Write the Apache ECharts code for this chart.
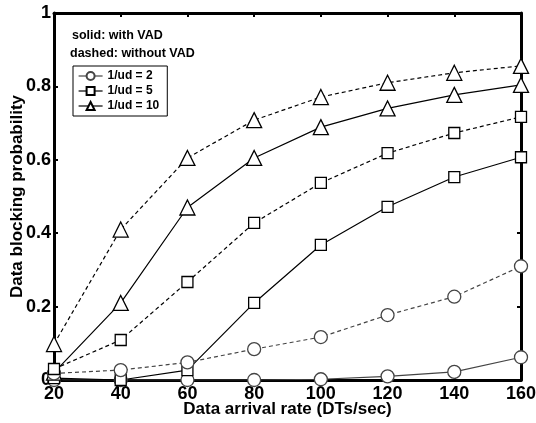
<!DOCTYPE html>
<html>
<head>
<meta charset="utf-8">
<script src="https://cdn.jsdelivr.net/npm/echarts@6/dist/echarts.min.js"></script>
<style>
  html, body { margin: 0; padding: 0; background: #fff; }
  #chart { width: 536px; height: 423px; }
</style>
</head>
<body>
<div id="chart"></div>
<script>
// arrival rates (DTs/sec)
const rates = [20, 40, 60, 80, 100, 120, 140, 160];
const yTicks = [0, 0.2, 0.4, 0.6, 0.8, 1];

// with VAD (solid)
const ud2With  = [0.0, 0.0, 0.0, 0.0, 0.002, 0.01, 0.022, 0.062];
const ud5With  = [0.005, 0.0, 0.027, 0.21, 0.368, 0.472, 0.553, 0.607];
const ud10With = [0.02, 0.21, 0.47, 0.605, 0.689, 0.74, 0.777, 0.804];
// without VAD (dashed)
const ud2Without  = [0.018, 0.027, 0.048, 0.084, 0.117, 0.177, 0.227, 0.31];
const ud5Without  = [0.03, 0.109, 0.267, 0.428, 0.537, 0.618, 0.673, 0.717];
const ud10Without = [0.098, 0.41, 0.605, 0.708, 0.771, 0.81, 0.837, 0.856];

const pairs = arr => rates.map((x, i) => [x, arr[i]]);

function line(name, data, symbol, size, dashed, color) {
  return {
    name: name,
    type: 'line',
    data: pairs(data),
    symbol: symbol,
    symbolSize: size,
    showSymbol: true,
    lineStyle: { color: color, width: 1.2, type: dashed ? [4, 3] : 'solid' },
    itemStyle: { color: '#fff', borderColor: color, borderWidth: 1.3 },
    emphasis: { disabled: true },
    animation: false
  };
}

const chart = echarts.init(document.getElementById('chart'));
const labelFont = { fontFamily: 'Liberation Sans, Arial, sans-serif', fontWeight: 'bold' };
const frame = { onZero: false, lineStyle: { color: '#000', width: 3 } };
const ticks = { show: true, inside: true, length: 4, lineStyle: { color: '#000', width: 2 } };

chart.setOption({
  backgroundColor: '#fff',
  grid: { left: 54, right: 15, top: 13, bottom: 43, outerBoundsMode: 'none' },
  xAxis: [{
    type: 'value', min: 20, max: 160, interval: 20,
    name: 'Data arrival rate (DTs/sec)', nameLocation: 'middle', nameGap: 21,
    nameMoveOverlap: false,
    nameTextStyle: Object.assign({ fontSize: 17, color: '#000' }, labelFont),
    axisLine: frame, axisTick: ticks,
    axisLabel: Object.assign({ fontSize: 18, color: '#000', margin: 5 }, labelFont),
    splitLine: { show: false }
  }, {
    type: 'value', min: 20, max: 160, interval: 20, position: 'top',
    axisLine: frame, axisTick: ticks,
    axisLabel: { show: false }, splitLine: { show: false }
  }],
  yAxis: [{
    type: 'value', min: 0, max: 1, interval: 0.2,
    name: 'Data blocking probability', nameLocation: 'middle', nameGap: 28, nameRotate: 90,
    nameMoveOverlap: false,
    nameTextStyle: Object.assign({ fontSize: 17, color: '#000' }, labelFont),
    axisLine: Object.assign({ show: true }, frame), axisTick: ticks,
    axisLabel: Object.assign({ fontSize: 18, color: '#000', margin: 3,
      formatter: v => String(yTicks.find(t => Math.abs(t - v) < 1e-6) ?? v) }, labelFont),
    splitLine: { show: false }
  }, {
    type: 'value', min: 0, max: 1, interval: 0.2, position: 'right',
    axisLine: Object.assign({ show: true }, frame), axisTick: ticks,
    axisLabel: { show: false }, splitLine: { show: false }
  }],
  legend: {
    orient: 'vertical', left: 73, top: 66,
    data: ['1/ud = 2', '1/ud = 5', '1/ud = 10'],
    itemWidth: 24, itemHeight: 10, itemGap: 3,
    padding: [4, 8, 4, 5],
    borderColor: '#000', borderWidth: 1,
    backgroundColor: '#fff',
    lineStyle: { width: 1.2 },
    textStyle: Object.assign({ fontSize: 12, color: '#000' }, labelFont),
    selectedMode: false
  },
  graphic: [
    { type: 'text', left: 72, top: 29, style: Object.assign({ text: 'solid: with VAD', fontSize: 12.5, fill: '#000' }, labelFont) },
    { type: 'text', left: 70, top: 47, style: Object.assign({ text: 'dashed: without VAD', fontSize: 12.5, fill: '#000' }, labelFont) }
  ],
  series: [
    line('1/ud = 2', ud2With, 'circle', 13, false, '#444'),
    line('1/ud = 5', ud5With, 'rect', 11, false, '#000'),
    line('1/ud = 10', ud10With, 'triangle', 15, false, '#000'),
    line('2 dashed', ud2Without, 'circle', 13, true, '#444'),
    line('5 dashed', ud5Without, 'rect', 11, true, '#000'),
    line('10 dashed', ud10Without, 'triangle', 15, true, '#000')
  ]
});
</script>
</body>
</html>
